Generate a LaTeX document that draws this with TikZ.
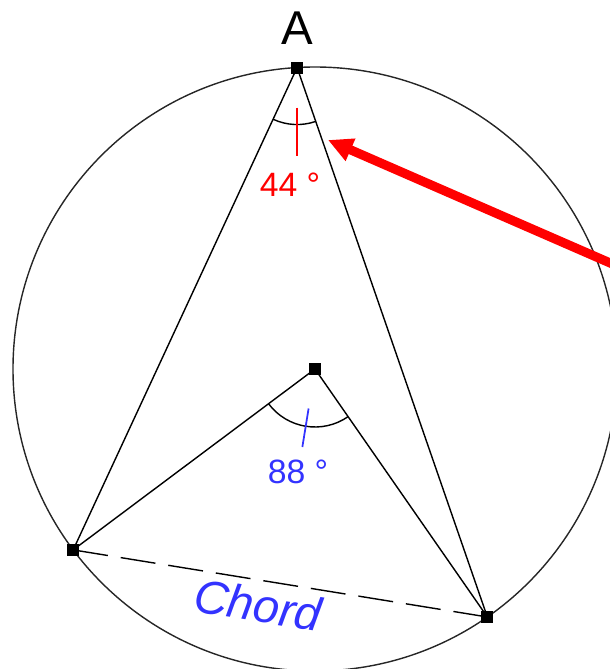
\documentclass[tikz,border=0pt]{standalone}
\usepackage{fontspec}
\setmainfont{Liberation Sans}
\usetikzlibrary{arrows.meta,angles,calc}

\definecolor{chordblue}{RGB}{51,51,255}

\begin{document}
\begin{tikzpicture}[
  thin,
  dot/.style={fill=black, inner sep=0pt, minimum size=0.12cm},
  seg/.style={line width=0.4pt},
  chordline/.style={seg, dash pattern=on 10pt off 3.7pt},
  pointer/.style={red, line width=2.6pt, -{Triangle[length=7pt,width=6.5pt]}}
]
  % Rahmen
  \useasboundingbox (-3.15,-3.00) rectangle (2.95,3.69);
  \clip (-3.15,-3.00) rectangle (2.95,3.69);

  % Kreis
  \draw[line width=0.4pt, black!85] (0,0) circle (3.02);

  % Punkte
  \node[dot] (O) at (0,0) {};
  \node[dot] (A) at (93.4:3.02) {};
  \node[dot] (B) at (216.8:3.02) {};
  \node[dot] (C) at (304.8:3.02) {};
  \node[font=\fontsize{13.5}{15}\selectfont] (lblA) at (-0.18,3.41) {A};

  % Sehnen und Radien
  \draw[seg] (A.center) -- (B.center);
  \draw[seg] (A.center) -- (C.center);
  \draw[seg] (O.center) -- (B.center);
  \draw[seg] (O.center) -- (C.center);
  \draw[chordline] (B.center) -- (C.center);

  % Winkel bei A
  \pic[draw, seg, angle radius=0.57cm] {angle=B--A--C};
  \draw[red, line width=0.5pt] ($(A)+(0,-0.40)$) -- ($(A)+(0,-0.88)$);
  \node[red, font=\fontsize{9.6}{11}\selectfont] (lbl44) at (-0.25,1.84) {44 °};

  % Winkel bei O
  \pic[draw, seg, angle radius=0.58cm] {angle=B--O--C};
  \draw[chordblue, line width=0.5pt] ($(O)+(260.8:0.40)$) -- ($(O)+(260.8:0.79)$);
  \node[chordblue, font=\fontsize{9.6}{11}\selectfont] (lbl88) at (-0.17,-1.03) {88 °};

  % Beschriftung der Sehne
  \node[chordblue, rotate=-9, font=\fontsize{13.4}{15}\selectfont\itshape] (lblChord) at (-0.57,-2.36) {Chord};

  % Pfeil
  \coordinate (tail) at (3.25,0.93);
  \coordinate (tip) at (0.13,2.29);
  \draw[pointer] (tail) -- (tip);
\end{tikzpicture}
\end{document}
